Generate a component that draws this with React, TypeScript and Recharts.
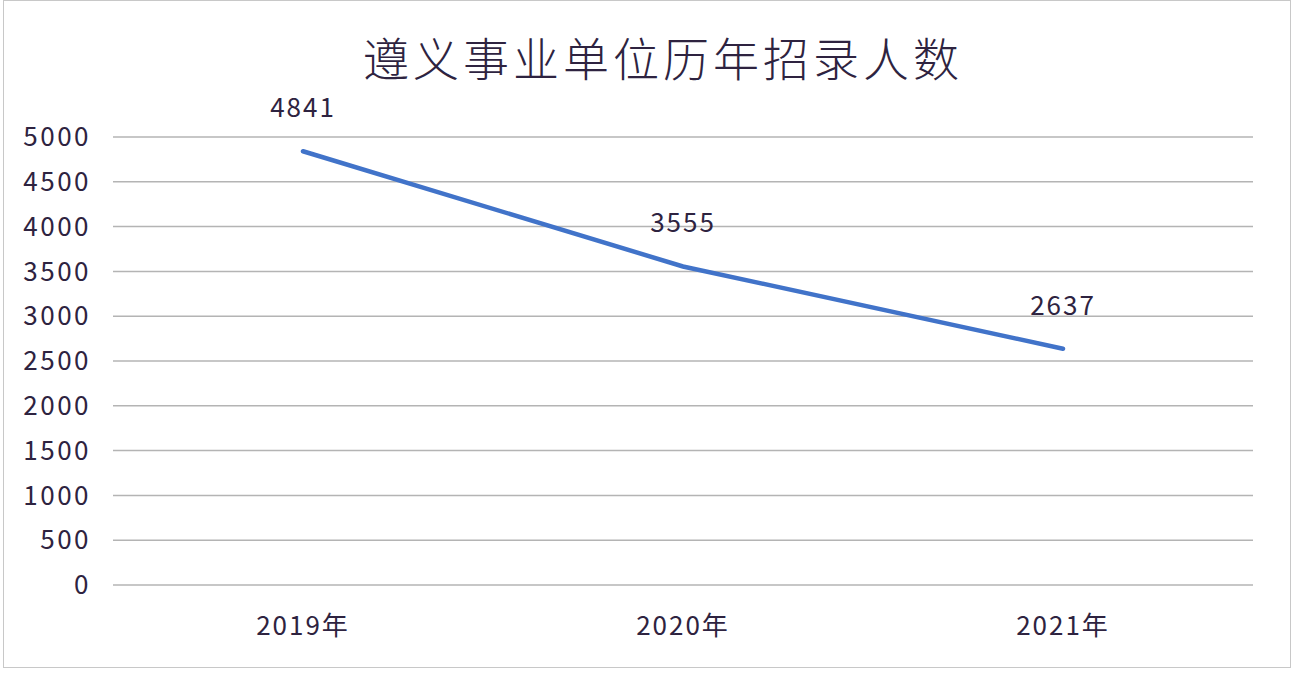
import { LineChart, Line, XAxis, YAxis, CartesianGrid, LabelList } from 'recharts';

const years = ['2019年', '2020年', '2021年'];
const hires = [4841, 3555, 2637];
const yTicks = [0, 500, 1000, 1500, 2000, 2500, 3000, 3500, 4000, 4500, 5000];

const data = years.map((year, i) => ({ year, value: hires[i] }));

const FONT = '"Noto Sans CJK SC", "Noto Sans", sans-serif';
const TEXT = '#2e2340';

export default function App() {
  return (
    <div
      style={{
        position: 'absolute',
        top: 0,
        left: 0,
        width: 1302,
        height: 682,
        background: '#ffffff',
        fontFamily: FONT,
        overflow: 'hidden',
      }}
    >
      {/* outer frame */}
      <div
        style={{
          position: 'absolute',
          left: 3,
          top: 0,
          width: 1288,
          height: 668,
          border: '1px solid #c8c8c8',
          boxSizing: 'border-box',
        }}
      />
      <div
        style={{
          position: 'absolute',
          top: 26,
          left: 0,
          width: 1302,
          paddingLeft: 24,
          boxSizing: 'border-box',
          textAlign: 'center',
          fontSize: 46,
          fontWeight: 300,
          letterSpacing: 4,
          color: TEXT,
          lineHeight: '60px',
        }}
      >
        遵义事业单位历年招录人数
      </div>
      <LineChart
        width={1302}
        height={682}
        data={data}
        margin={{ top: 137, right: 49, left: 13, bottom: 37 }}
      >
        <CartesianGrid vertical={false} stroke="#b4b4b4" strokeWidth={1.5} />
        <XAxis
          dataKey="year"
          scale="band"
          axisLine={false}
          tickLine={false}
          tickSize={0}
          tickMargin={32}
          height={60}
          tick={{ fill: TEXT, fontSize: 26, fontFamily: FONT, letterSpacing: 2 }}
        />
        <YAxis
          domain={[0, 5000]}
          ticks={yTicks}
          interval={0}
          axisLine={false}
          tickLine={false}
          tickSize={0}
          tickMargin={22}
          width={100}
          tick={{ fill: TEXT, fontSize: 26, fontFamily: FONT, letterSpacing: 2.5 }}
        />
        <Line
          type="linear"
          dataKey="value"
          stroke="#4173c9"
          strokeWidth={4.5}
          strokeLinecap="round"
          dot={false}
          activeDot={false}
          isAnimationActive={false}
        >
          <LabelList
            dataKey="value"
            position="top"
            offset={34}
            fill={TEXT}
            fontSize={26}
            fontFamily={FONT}
            letterSpacing={2}
          />
        </Line>
      </LineChart>
    </div>
  );
}
